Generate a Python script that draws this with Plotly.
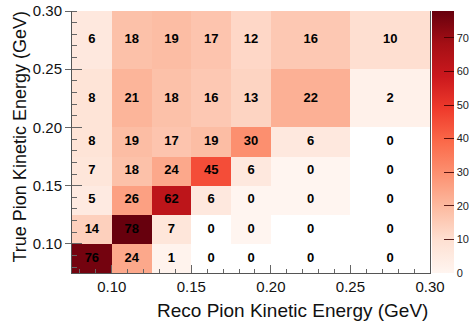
import plotly.graph_objects as go

# Bin edges (GeV) for reconstructed (x) and true (y) pion kinetic energy
reco_edges = [0.075, 0.100, 0.125, 0.150, 0.175, 0.200, 0.250, 0.300]
true_edges = [0.075, 0.100, 0.125, 0.150, 0.175, 0.200, 0.250, 0.300]

# Bin contents, one list per true-energy row (bottom to top); None = empty bin
row_075_100 = [76, 24, 1, None, None, None, None]
row_100_125 = [14, 78, 7, None, 0, None, None]
row_125_150 = [5, 26, 62, 6, 0, 0, None]
row_150_175 = [7, 18, 24, 45, 6, 0, None]
row_175_200 = [8, 19, 17, 19, 30, 6, None]
row_200_250 = [8, 21, 18, 16, 13, 22, 2]
row_250_300 = [6, 18, 19, 17, 12, 16, 10]

counts = [row_075_100, row_100_125, row_125_150, row_150_175,
          row_175_200, row_200_250, row_250_300]

axis_ticks = [0.10, 0.15, 0.20, 0.25, 0.30]
cbar_ticks = [0, 10, 20, 30, 40, 50, 60, 70]

reds = ['rgb(255,245,240)', 'rgb(254,224,210)', 'rgb(252,187,161)',
        'rgb(252,146,114)', 'rgb(251,106,74)', 'rgb(239,59,44)',
        'rgb(203,24,29)', 'rgb(165,15,21)', 'rgb(103,0,13)']
colorscale = [[i / (len(reds) - 1), c] for i, c in enumerate(reds)]

zmax = max(v for row in counts for v in row if v is not None)

W, H = 469, 321
L, R, T, B = 72, 39, 11, 48
pw, ph = W - L - R, H - T - B

fig = go.Figure()

fig.add_trace(go.Heatmap(
    x=reco_edges, y=true_edges, z=counts,
    colorscale=colorscale, zmin=0, zmax=zmax,
    hoverinfo="skip",
    colorbar=dict(
        x=1 + 2 / pw, xanchor="left", xpad=0,
        y=0.5, yanchor="middle", len=1, lenmode="fraction", ypad=0,
        thickness=22, outlinewidth=0,
        tickvals=cbar_ticks, ticks="inside", ticklen=10,
        tickcolor="rgba(60,0,0,0.85)", tickwidth=1,
        tickfont=dict(family="Liberation Sans", size=11, color="#222"),
    ),
))

# Bin-content labels at the centre of each bin
xc, yc, txt = [], [], []
for j, row in enumerate(counts):
    for i, v in enumerate(row):
        xc.append((reco_edges[i] + reco_edges[i + 1]) / 2)
        yc.append((true_edges[j] + true_edges[j + 1]) / 2)
        txt.append(str(v if v is not None else 0))

fig.add_trace(go.Scatter(
    x=xc, y=yc, text=txt, mode="text", yaxis="y2",
    textfont=dict(family="Liberation Sans", size=13, color="black", weight="bold"),
    hoverinfo="skip", showlegend=False, cliponaxis=False,
))

tickfont = dict(family="Liberation Sans", size=15, color="#111")
rng = [reco_edges[0], reco_edges[-1]]
yrng = [true_edges[0], true_edges[-1]]

fig.update_layout(
    width=W, height=H,
    margin=dict(l=L, r=R, t=T, b=B, pad=0, autoexpand=False),
    paper_bgcolor="white", plot_bgcolor="white",
    showlegend=False,
    xaxis=dict(
        range=rng, tickvals=axis_ticks, tickformat=".2f",
        ticks="inside", ticklen=8, tickcolor="#666", tickwidth=1,
        minor=dict(dtick=0.01, tick0=0.0, ticks="inside", ticklen=4, tickcolor="#666"),
        showline=True, linecolor="#555", linewidth=1, mirror=False,
        showgrid=False, zeroline=False, tickfont=tickfont,
    ),
    yaxis=dict(
        range=yrng, tickvals=axis_ticks, tickformat=".2f",
        ticks="outside", ticklen=6, tickcolor="#666", tickwidth=1,
        minor=dict(dtick=0.01, tick0=0.0, ticks="inside", ticklen=5, tickcolor="#666"),
        showline=True, linecolor="#555", linewidth=1, mirror=True,
        showgrid=False, zeroline=False, tickfont=tickfont,
    ),
    yaxis2=dict(
        range=yrng, overlaying="y", side="left", tickvals=axis_ticks,
        ticks="inside", ticklen=10, tickcolor="#666", tickwidth=1,
        showticklabels=False, showline=False, showgrid=False, zeroline=False,
    ),
    annotations=[
        dict(text="Reco Pion Kinetic Energy (GeV)", xref="paper", yref="paper",
             x=1, xanchor="right", y=-37 / ph, yanchor="middle", showarrow=False,
             font=dict(family="Liberation Sans", size=19, color="#111")),
        dict(text="True Pion Kinetic Energy (GeV)", xref="paper", yref="paper",
             x=(19 - L) / pw, xanchor="center", y=1 + 1 / ph, yanchor="top",
             textangle=-90, showarrow=False,
             font=dict(family="Liberation Sans", size=18, color="#111")),
    ],
)

fig.write_html("out.html")
